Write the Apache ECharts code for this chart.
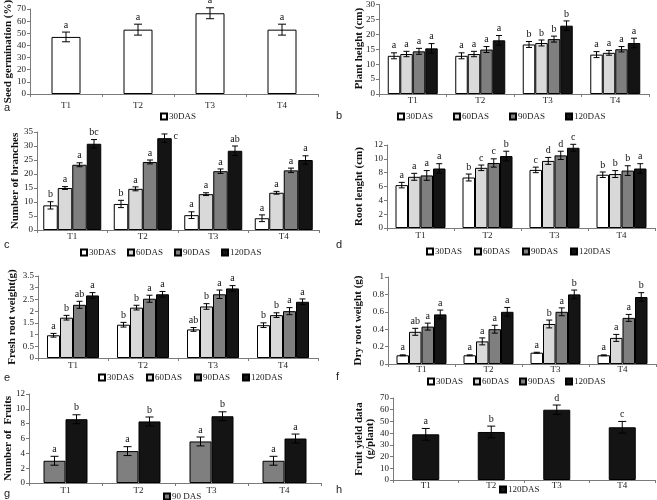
<!DOCTYPE html>
<html><head><meta charset="utf-8">
<script src="https://cdn.jsdelivr.net/npm/echarts@6/dist/echarts.min.js"></script>
<style>html,body{margin:0;padding:0;background:#fff}#c{width:657px;height:500px}</style>
</head><body><div id="c"></div>
<script>
const categories = ['T1','T2','T3','T4'];
const dasNames = ['30DAS','60DAS','90DAS','120DAS'];
// (a) seed germination, 30DAS
const germMean = [47, 53, 66.5, 53];
const germErr = [4, 4.5, 4.5, 4.5];
const germLet = ['a','a','a','a'];
// (b) plant height: rows 30/60/90/120 DAS, columns T1..T4
const heightMean = [[12.8,12.8,16.6,13.2],[13.4,13.4,17.1,13.8],[14.3,14.9,18.4,15.0],[15.3,18.0,22.9,17.1]];
const heightErr = [[1,1,1,1],[0.9,0.9,1,0.8],[1,1,1,0.9],[1.6,1.6,1.6,1.6]];
const heightLet = [['a','a','b','a'],['a','a','b','a'],['a','a','b','a'],['a','a','b','a']];
// (c) number of branches
const branchMean = [[8.8,9.3,5.3,4.2],[15,14.7,12.8,13.3],[23.3,24.3,21,21.3],[30.8,32.8,28.3,25]];
const branchErr = [[1.3,1.3,1.2,1.2],[0.5,0.7,0.5,0.5],[0.7,0.7,0.8,0.8],[1.5,1.5,1.7,1.5]];
const branchLet = [['b','b','a','a'],['a','a','a','a'],['a','a','a','a'],['bc','c','ab','a']];
// (d) root length
const rootLenMean = [[6.2,7.3,8.4,7.7],[7.4,8.7,9.7,7.8],[7.6,9.4,10.5,8.3],[8.6,10.4,11.6,8.6]];
const rootLenErr = [[0.4,0.5,0.4,0.4],[0.5,0.4,0.5,0.5],[0.7,0.6,0.6,0.7],[0.7,0.7,0.5,0.7]];
const rootLenLet = [['a','b','c','b'],['a','c','d','b'],['a','c','d','b'],['a','b','c','a']];
// (e) fresh root weight
const freshMean = [[0.97,1.42,1.22,1.4],[1.72,2.15,2.2,1.83],[2.27,2.53,2.72,2.0],[2.67,2.72,2.97,2.4]];
const freshErr = [[0.08,0.1,0.08,0.1],[0.1,0.1,0.12,0.1],[0.15,0.15,0.18,0.15],[0.12,0.12,0.12,0.12]];
const freshLet = [['a','b','ab','b'],['b','b','b','b'],['ab','a','a','a'],['a','a','a','a']];
// (f) dry root weight
const dryMean = [[0.1,0.1,0.13,0.1],[0.37,0.26,0.46,0.3],[0.43,0.4,0.6,0.53],[0.57,0.6,0.8,0.77]];
const dryErr = [[0.005,0.005,0.005,0.005],[0.04,0.04,0.045,0.04],[0.04,0.045,0.045,0.04],[0.05,0.05,0.05,0.05]];
const dryLet = [['a','a','a','a'],['ab','a','b','a'],['a','a','a','a'],['a','a','b','b']];
// (g) number of fruits: rows 90DAS, 120DAS
const fruitMean = [[3,4.3,5.6,3],[8.6,8.3,9,6]];
const fruitErr = [[0.6,0.6,0.6,0.6],[0.6,0.6,0.6,0.6]];
const fruitLet = [['a','a','a','a'],['b','b','b','a']];
// (h) fruit yield, 120DAS
const yieldMean = [39,41,60,45];
const yieldErr = [5,5,4,5];
const yieldLet = ['a','b','d','c'];

const colors = ['#ffffff','#d9d9d9','#7f7f7f','#141414'];
const SERIF = '"Liberation Serif","Times New Roman",serif';

const panels = [
  {grid:{left:30,top:9,width:288,height:85}, max:70, interval:10, bw:29, cap:4, xm:7,
   series:[{name:'30DAS', color:colors[0], mean:germMean, err:germErr, let:germLet}],
   title:['Seed germination (%)'], tx:8, letter:'a', lx:4, ly:108,
   legend:{left:160, top:112, gap:10, data:['30DAS']}},
  {grid:{left:379,top:3,width:270,height:91}, max:30, interval:5, bw:12.5, cap:3, xm:2,
   series:[0,1,2,3].map(k=>({name:dasNames[k], color:colors[k], mean:heightMean[k], err:heightErr[k], let:heightLet[k]})),
   title:['Plant height (cm)'], tx:359, letter:'b', lx:336, ly:116,
   legend:{left:397, top:112, gap:20, data:dasNames}},
  {grid:{left:37,top:132,width:282,height:98}, max:35, interval:5, bw:14.5, cap:3, xm:2,
   series:[0,1,2,3].map(k=>({name:dasNames[k], color:colors[k], mean:branchMean[k], err:branchErr[k], let:branchLet[k]})),
   title:['Number of branches'], tx:15, letter:'c', lx:4, ly:245,
   legend:{left:80, top:248, gap:11, data:dasNames}},
  {grid:{left:387,top:145,width:268,height:83}, max:12, interval:2, bw:12.5, cap:3, xm:3,
   series:[0,1,2,3].map(k=>({name:dasNames[k], color:colors[k], mean:rootLenMean[k], err:rootLenErr[k], let:rootLenLet[k]})),
   title:['Root lenght (cm)'], tx:359, letter:'d', lx:336, ly:245,
   legend:{left:426, top:247, gap:12, data:dasNames}},
  {grid:{left:38,top:276,width:280,height:82}, max:3.5, interval:0.5, bw:13, cap:3, xm:3,
   series:[0,1,2,3].map(k=>({name:dasNames[k], color:colors[k], mean:freshMean[k], err:freshErr[k], let:freshLet[k]})),
   title:['Fresh root weight(g)'], tx:12, letter:'e', lx:4, ly:378,
   legend:{left:98, top:373, gap:12, data:dasNames}},
  {grid:{left:388,top:277,width:268,height:87}, max:1, interval:0.2, bw:12.5, cap:3, xm:1,
   series:[0,1,2,3].map(k=>({name:dasNames[k], color:colors[k], mean:dryMean[k], err:dryErr[k], let:dryLet[k]})),
   title:['Dry root weight (g)'], tx:358, letter:'f', lx:336, ly:377,
   legend:{left:427, top:377, gap:10, data:dasNames}},
  {grid:{left:29,top:394,width:292,height:89}, max:12, interval:2, bw:22, cap:4, xm:3,
   series:[{name:'90 DAS', color:colors[2], mean:fruitMean[0], err:fruitErr[0], let:fruitLet[0]},
           {name:'Fruits120', color:colors[3], mean:fruitMean[1], err:fruitErr[1], let:fruitLet[1]}],
   title:['Number of  Fruits'], tx:8, letter:'g', lx:4, ly:494,
   legend:{left:163, top:492, gap:10, data:['90 DAS']}},
  {grid:{left:393,top:398,width:262,height:82}, max:70, interval:10, bw:27, cap:4, xm:1,
   series:[{name:'120DAS', color:colors[3], mean:yieldMean, err:yieldErr, let:yieldLet}],
   title:['Fruit yield data','(g/plant)'], tx:365, letter:'h', lx:336, ly:490,
   legend:{left:499, top:485, gap:10, data:['120DAS']}}
];

const grid=[], xAxis=[], yAxis=[], series=[], legend=[], graphic=[];
const axisColor = '#7a7a7a';
panels.forEach((p,i)=>{
  grid.push(Object.assign({containLabel:false}, p.grid));
  xAxis.push({type:'category', gridIndex:i, data:categories,
    axisLine:{lineStyle:{color:axisColor}}, axisTick:{show:true, length:3, lineStyle:{color:axisColor}},
    axisLabel:{fontFamily:SERIF, fontSize:9, color:'#222', margin:p.xm}, splitLine:{show:false}});
  yAxis.push({type:'value', gridIndex:i, min:0, max:p.max, interval:p.interval,
    axisLine:{show:true, lineStyle:{color:axisColor}}, axisTick:{show:true, length:3, lineStyle:{color:axisColor}},
    axisLabel:{fontFamily:SERIF, fontSize:9, color:'#222', margin:4}, splitLine:{show:false}});
  const n = p.series.length;
  p.series.forEach((s,k)=>{
    series.push({type:'bar', name:s.name, xAxisIndex:i, yAxisIndex:i, data:s.mean,
      barWidth:p.bw, barGap:'0%', itemStyle:{color:s.color, borderColor:'#000', borderWidth:1},
      emphasis:{disabled:true}, animation:false});
  });
  p.series.forEach((s,k)=>{
    const data = s.mean.map((m,j)=>[j, m, s.err[j]]);
    const off = (k-(n-1)/2)*p.bw;
    series.push({type:'custom', xAxisIndex:i, yAxisIndex:i, data, silent:true, animation:false,
      encode:{x:0, y:1}, z:5,
      renderItem:(params, api)=>{
        const x = api.value(0), m = api.value(1), e = api.value(2);
        const hi = api.coord([x, m+e]), lo = api.coord([x, m-e]);
        const cx = hi[0] + off;
        const st = {stroke:'#000', lineWidth:1};
        const lt = s.let[params.dataIndex];
        const side = (lt === 'c' && n === 4 && k === 3 && params.dataIndex === 1 && i === 2);
        return {type:'group', children:[
          {type:'line', shape:{x1:cx,y1:hi[1],x2:cx,y2:lo[1]}, style:st},
          {type:'line', shape:{x1:cx-p.cap,y1:hi[1],x2:cx+p.cap,y2:hi[1]}, style:st},
          {type:'line', shape:{x1:cx-p.cap,y1:lo[1],x2:cx+p.cap,y2:lo[1]}, style:st},
          {type:'text', style:{text:lt, x: side ? cx+p.bw/2+4 : cx, y: side ? hi[1]+2 : hi[1]-2,
            align:'center', verticalAlign: side ? 'middle' : 'bottom',
            font:'10px '+SERIF, fill:'#111'}}
        ]};
      }});
  });
  legend.push({left:p.legend.left, top:p.legend.top, data:p.legend.data, itemWidth:6, itemHeight:6,
    itemGap:p.legend.gap, icon:'rect', selectedMode:false, padding:0,
    textStyle:{fontFamily:SERIF, fontSize:9, color:'#222', padding:[0,0,0,-3]}});
  const lines = p.title;
  const cy = p.grid.top + p.grid.height/2;
  lines.forEach((t,li)=>{
    graphic.push({type:'text', x:p.tx + (li-(lines.length-1)/2)*11, y:cy, rotation:Math.PI/2,
      style:{text:t, font:'bold 11px '+SERIF, fill:'#111', align:'center', verticalAlign:'middle'}});
  });
  graphic.push({type:'text', x:p.lx, y:p.ly, style:{text:p.letter, font:'11px "Liberation Sans",Arial,sans-serif', fill:'#222', verticalAlign:'middle'}});
});

const chart = echarts.init(document.getElementById('c'), null, {renderer:'canvas'});
chart.setOption({animation:false, backgroundColor:'#fff', grid, xAxis, yAxis, series, legend, graphic});
</script></body></html>
